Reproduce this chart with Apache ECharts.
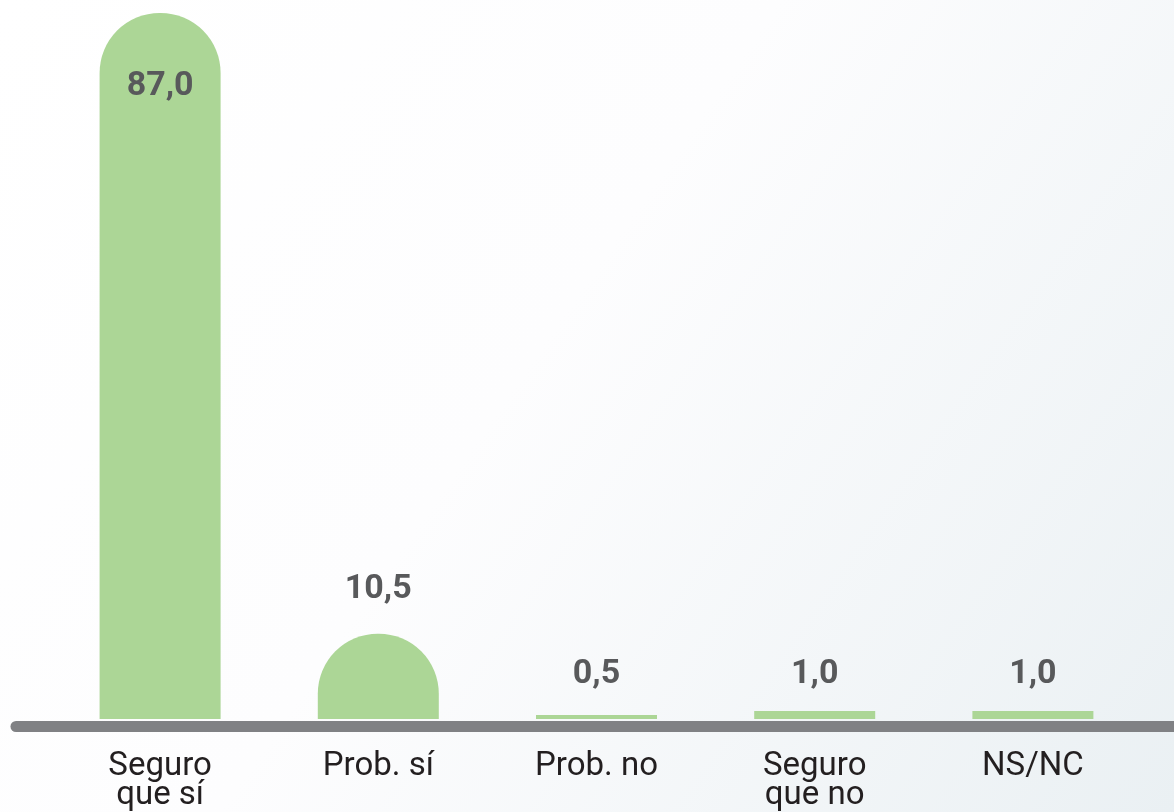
<!DOCTYPE html>
<html>
<head>
<meta charset="utf-8">
<script src="https://cdn.jsdelivr.net/npm/echarts@6/dist/echarts.min.js"></script>
<style>
  html, body { margin: 0; padding: 0; }
  #chart { width: 1174px; height: 812px; }
</style>
</head>
<body>
<div id="chart"></div>
<script>
// datos
const categories = ['Seguro\nque sí', 'Prob. sí', 'Prob. no', 'Seguro\nque no', 'NS/NC']
const values = [87.0, 10.5, 0.5, 1.0, 1.0]

const chart = echarts.init(document.getElementById('chart'))

const barData = values.map((v, i) => {
  let big = v > 5
  return {
    value: v,
    itemStyle: { borderRadius: big ? [60, 60, 0, 0] : 0 },
    label: i === 0
      ? { position: 'insideTop', distance: 56 }
      : { position: 'top', distance: v > 5 ? 27 : (v < 1 ? 23 : 19) }
  }
})

const option = {
  backgroundColor: {
    type: 'linear', x: 0, y: 0, x2: 1, y2: 1,
    colorStops: [
      { offset: 0, color: '#ffffff' },
      { offset: 0.45, color: '#fdfdfe' },
      { offset: 1, color: '#eaf0f3' }
    ]
  },
  animation: false,
  grid: [
    { left: 51, right: 32, top: 13, bottom: 92 },
    { left: 16, right: -40, top: 13, bottom: 86 }
  ],
  xAxis: [
    {
      type: 'category',
      gridIndex: 0,
      data: categories,
      axisLine: { show: false },
      axisTick: { show: false },
      axisLabel: {
        interval: 0,
        margin: 33,
        color: '#231f20',
        fontFamily: 'Roboto',
        fontSize: 33,
        lineHeight: 29
      }
    },
    {
      type: 'value',
      gridIndex: 1,
      min: 0,
      max: 1,
      z: 5,
      axisLine: { show: true, lineStyle: { color: '#808184', width: 11, cap: 'round' } },
      axisTick: { show: false },
      axisLabel: { show: false },
      splitLine: { show: false }
    }
  ],
  yAxis: [
    { type: 'value', gridIndex: 0, min: 0, max: 87, show: false },
    { type: 'value', gridIndex: 1, show: false }
  ],
  series: [{
    type: 'bar',
    xAxisIndex: 0,
    yAxisIndex: 0,
    data: barData,
    barWidth: 121,
    itemStyle: { color: '#acd696' },
    label: {
      show: true,
      color: '#58595b',
      fontFamily: 'Roboto',
      fontWeight: 'bold',
      fontSize: 34,
      formatter: p => p.value.toFixed(1).replace('.', ',')
    }
  }]
}

chart.setOption(option)
</script>
</body>
</html>
